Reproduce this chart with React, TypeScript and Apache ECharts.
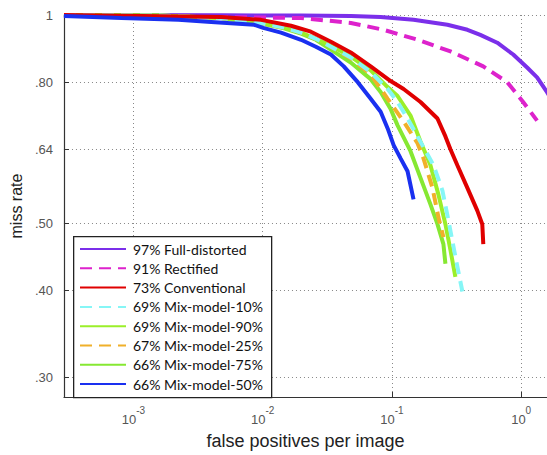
import React, { useEffect, useRef } from 'react';
import * as echarts from 'echarts';

// ---- data (false positives per image, miss rate) ----
const fullDistortedFppi = [2.9e-4, 0.005, 0.0198, 0.0481, 0.0818, 0.147, 0.269, 0.384, 0.483, 0.653, 0.868, 1.112, 1.328, 1.586, 1.9];
const fullDistortedMr = [1.0, 0.999, 0.998, 0.997, 0.993, 0.984, 0.968, 0.952, 0.936, 0.912, 0.877, 0.84, 0.813, 0.774, 0.732];

const rectifiedFppi = [2.9e-4, 0.0054, 0.0198, 0.0481, 0.0863, 0.158, 0.284, 0.509, 0.78, 1.036, 1.328];
const rectifiedMr = [0.997, 0.993, 0.99, 0.974, 0.952, 0.921, 0.886, 0.843, 0.8, 0.749, 0.704];

const conventionalFppi = [2.9e-4, 0.00478, 0.00972, 0.01656, 0.0236, 0.0337, 0.048, 0.0685, 0.0977, 0.1231, 0.1664, 0.2251, 0.2594, 0.2836, 0.3209, 0.3835, 0.4578, 0.5003, 0.5093];
const conventionalMr = [1.0, 0.993, 0.984, 0.965, 0.946, 0.915, 0.883, 0.843, 0.803, 0.782, 0.749, 0.709, 0.668, 0.64, 0.607, 0.563, 0.522, 0.499, 0.467];

const mix10Fppi = [2.9e-4, 0.0016, 0.00478, 0.00972, 0.01462, 0.0198, 0.0258, 0.0337, 0.048, 0.0685, 0.0927, 0.1106, 0.1321, 0.1578, 0.2097, 0.246, 0.2736, 0.3098, 0.3509];
const mix10Mr = [1.0, 0.998, 0.99, 0.973, 0.959, 0.943, 0.924, 0.9, 0.8685, 0.827, 0.782, 0.749, 0.709, 0.668, 0.607, 0.558, 0.5055, 0.448, 0.399];

const mix90Fppi = [2.9e-4, 0.0016, 0.00478, 0.00972, 0.01462, 0.0198, 0.0258, 0.0337, 0.048, 0.0685, 0.0894, 0.1106, 0.1393, 0.1664, 0.1987, 0.2291, 0.2594, 0.2836, 0.3098];
const mix90Mr = [1.0, 0.998, 0.99, 0.973, 0.959, 0.943, 0.924, 0.903, 0.871, 0.832, 0.792, 0.764, 0.716, 0.657, 0.607, 0.5505, 0.499, 0.458, 0.419];

const mix25Fppi = [2.9e-4, 0.0016, 0.00478, 0.00972, 0.01462, 0.0198, 0.0258, 0.0337, 0.048, 0.0685, 0.0927, 0.1231, 0.1578, 0.1755, 0.206, 0.2291, 0.2503];
const mix25Mr = [1.0, 0.998, 0.99, 0.973, 0.959, 0.943, 0.924, 0.9, 0.866, 0.821, 0.757, 0.702, 0.653, 0.621, 0.563, 0.5105, 0.478];

const mix75Fppi = [2.9e-4, 0.0016, 0.00478, 0.00972, 0.01462, 0.0198, 0.0258, 0.0337, 0.048, 0.0685, 0.0818, 0.0977, 0.1106, 0.1393, 0.1664, 0.1987, 0.2251, 0.2503, 0.2594];
const mix75Mr = [1.0, 0.998, 0.99, 0.973, 0.957, 0.94, 0.921, 0.8915, 0.854, 0.808, 0.774, 0.732, 0.693, 0.636, 0.582, 0.533, 0.499, 0.467, 0.4375];

const mix50Fppi = [2.9e-4, 8.1e-4, 0.00223, 0.004, 0.0086, 0.0101, 0.01386, 0.0198, 0.0258, 0.0337, 0.0424, 0.0544, 0.0685, 0.0818, 0.0927, 0.1031, 0.1167, 0.1321, 0.147];
const mix50Mr = [0.997, 0.99, 0.984, 0.977, 0.968, 0.958, 0.943, 0.921, 0.9, 0.877, 0.843, 0.8, 0.757, 0.725, 0.686, 0.649, 0.621, 0.595, 0.542];

const legendNames = [
  '97% Full-distorted',
  '91% Rectified',
  '73% Conventional',
  '69% Mix-model-10%',
  '69% Mix-model-90%',
  '67% Mix-model-25%',
  '66% Mix-model-75%',
  '66% Mix-model-50%',
];

const yTickValues = [0.3, 0.4, 0.5, 0.64, 0.8, 1];
const yTickLabels = ['.30', '.40', '.50', '.64', '.80', '1'];
const xTickValues = [0.001, 0.01, 0.1, 1];
const xTickExponents = ['-3', '-2', '-1', '0'];

const xMin = 2.9e-4;
const xMax = 1.585;
const yMin = 0.281;
const yMax = 1;

const toPts = (f: number[], m: number[]) => f.map((v, i) => [Math.log10(v), Math.log10(m[i])]);

export default function App() {
  const ref = useRef<HTMLDivElement>(null);
  useEffect(() => {
    const chart = echarts.init(ref.current!, null, { renderer: 'svg' });
    const dash = [12, 7];
    const mk = (name: string, f: number[], m: number[], color: string, dashed: boolean, z: number) => ({
      name,
      type: 'line',
      data: toPts(f, m),
      symbol: 'none',
      showSymbol: false,
      clip: true,
      z,
      lineStyle: { color, width: 4, type: dashed ? dash : 'solid' },
      itemStyle: { color: 'rgba(0,0,0,0)', borderWidth: 0 },
    });
    const series = [
      mk(legendNames[0], fullDistortedFppi, fullDistortedMr, '#7B2FEA', false, 2),
      mk(legendNames[1], rectifiedFppi, rectifiedMr, '#DD22CC', true, 3),
      mk(legendNames[6], mix75Fppi, mix75Mr, '#86E832', false, 2),
      mk(legendNames[4], mix90Fppi, mix90Mr, '#9BEF2A', false, 2),
      mk(legendNames[5], mix25Fppi, mix25Mr, '#F0B02A', true, 3),
      mk(legendNames[3], mix10Fppi, mix10Mr, '#86F6F6', true, 3),
      mk(legendNames[2], conventionalFppi, conventionalMr, '#E00000', false, 3),
      mk(legendNames[7], mix50Fppi, mix50Mr, '#1A30F0', false, 3),
    ];
    const yLabel = (v: number) => {
      const i = yTickValues.findIndex((t) => Math.abs(Math.log10(t) - v) < 1e-6);
      return i >= 0 ? yTickLabels[i] : '';
    };
    const xLabel = (v: number) => {
      const i = xTickValues.findIndex((t) => Math.abs(Math.log10(t) - v) < 1e-6);
      return i >= 0 ? '{b|10}{s|' + xTickExponents[i] + '}' : '';
    };
    const grid = { lineStyle: { color: '#888', width: 1, type: [1, 3] } };
    chart.setOption({
      animation: false,
      backgroundColor: '#fff',
      grid: { left: 62, right: 0, top: 15, bottom: 53, containLabel: false },
      xAxis: {
        type: 'value',
        min: Math.log10(xMin),
        max: Math.log10(xMax),
        name: 'false positives per image',
        nameLocation: 'middle',
        nameGap: 35,
        nameTextStyle: { fontSize: 18, color: '#222', fontFamily: 'Liberation Sans' },
        axisLine: { show: true, onZero: false, lineStyle: { color: '#333', width: 1.2 } },
        axisTick: { show: true, inside: true, length: 5, customValues: xTickValues.map((t) => Math.log10(t)), lineStyle: { color: '#333' } },
        axisLabel: {
          customValues: xTickValues.map((t) => Math.log10(t)),
          formatter: xLabel,
          margin: 8,
          fontSize: 13,
          rich: {
            b: { fontSize: 13, color: '#555', fontFamily: 'Liberation Sans', lineHeight: 21, verticalAlign: 'bottom' },
            s: { fontSize: 10, color: '#555', fontFamily: 'Liberation Sans', lineHeight: 11, verticalAlign: 'top' },
          },
        },
        splitLine: { show: true, ...grid },
      },
      yAxis: {
        type: 'value',
        min: Math.log10(yMin),
        max: Math.log10(yMax),
        name: 'miss rate',
        nameLocation: 'middle',
        nameGap: 24,
        nameTextStyle: { fontSize: 16, color: '#222', fontFamily: 'Liberation Sans' },
        axisLine: { show: true, onZero: false, lineStyle: { color: '#333', width: 1.2 } },
        axisTick: { show: true, inside: true, length: 5, customValues: yTickValues.map((t) => Math.log10(t)), lineStyle: { color: '#333' } },
        axisLabel: {
          customValues: yTickValues.map((t) => Math.log10(t)),
          formatter: yLabel,
          margin: 11,
          fontSize: 13,
          color: '#555',
          fontFamily: 'Liberation Sans',
        },
        splitLine: { show: true, ...grid },
      },
      legend: {
        data: legendNames,
        orient: 'vertical',
        left: 79,
        top: 242,
        itemWidth: 46,
        itemHeight: 14,
        itemGap: 5.3,
        padding: 0,
        itemStyle: { opacity: 0 },
        textStyle: { fontFamily: 'Lato', fontSize: 14, color: '#111', padding: [0, 0, 0, 2] },
        z: 5,
      },
      graphic: [
        {
          type: 'rect',
          left: 73,
          top: 236,
          z: 4,
          shape: { width: 198, height: 161 },
          style: { fill: '#fff', stroke: '#222', lineWidth: 1.3 },
        },
      ],
      series,
    });
    return () => chart.dispose();
  }, []);
  return <div ref={ref} style={{ position: 'absolute', left: 0, top: 0, width: 547, height: 455 }} />;
}
